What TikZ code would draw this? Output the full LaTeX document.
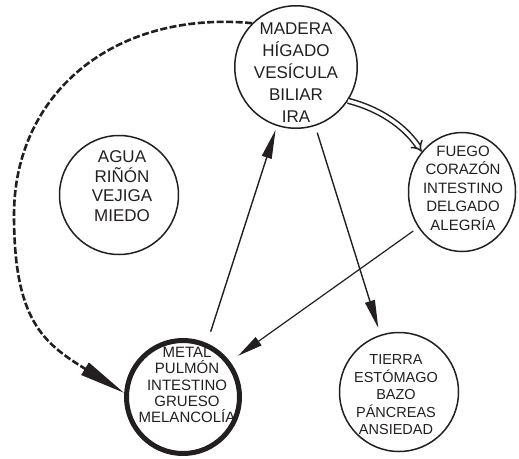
\documentclass[tikz,border=0pt]{standalone}
\usepackage{fontspec}
\setmainfont{Liberation Sans}
\usetikzlibrary{arrows.meta,shapes.geometric}
\definecolor{ink}{HTML}{231F20}
\begin{document}
\begin{tikzpicture}[x=1pt,y=-1pt,
  ring/.style={draw=ink, circle, line width=1.5pt, inner sep=0pt},
  txt/.style={align=center, text=ink, inner sep=0pt},
  link/.style={draw=ink, line width=1.4pt},
]
\useasboundingbox (0,0) rectangle (519,458);
% circles
\node[ring, minimum size=122.5pt] (madera) at (296,67) {};
\node[ring, minimum size=119pt] (agua) at (119,195) {};
\node[draw=ink, ellipse, line width=1.5pt, inner sep=0pt, minimum width=107pt, minimum height=119pt] (fuego) at (462,192) {};
\node[ring, line width=5pt, minimum size=113pt] (metal) at (183,397) {};
\node[ring, minimum size=119pt] (tierra) at (399,392) {};
% texts
\node[txt, font=\fontsize{17}{22}\selectfont] (maderaT) at (296,73) {MADERA\\HÍGADO\\VESÍCULA\\BILIAR\\IRA};
\node[txt, font=\fontsize{17}{19.5}\selectfont] (aguaT) at (122,186) {AGUA\\RIÑÓN\\VEJIGA\\MIEDO};
\node[txt, font=\fontsize{15}{18.5}\selectfont] (fuegoT) at (463,188) {FUEGO\\CORAZÓN\\INTESTINO\\DELGADO\\ALEGRÍA};
\node[txt, font=\fontsize{15}{16.3}\selectfont] (metalT) at (187,385) {METAL\\PULMÓN\\INTESTINO\\GRUESO\\MELANCOLÍA};
\node[txt, font=\fontsize{14.5}{17.5}\selectfont] (tierraT) at (396,395) {TIERRA\\ESTÓMAGO\\BAZO\\PÁNCREAS\\ANSIEDAD};
% connectors
\coordinate (bend) at (14,215);
\draw[link, shorten <=12pt, shorten >=4pt, -{Triangle[length=29pt,width=10pt]}] (metal.66) -- (madera.252);
\draw[link, shorten <=7pt, shorten >=7pt, -{Triangle[length=28pt,width=10pt]}] (madera.288) -- (tierra.108);
\draw[link, line width=1.2pt, shorten <=6pt, shorten >=10pt, -{Triangle[length=25pt,width=10pt]}] (fuego.219) -- (metal.37);
\draw[draw=ink, line width=2.6pt, dash pattern=on 7pt off 2.5pt, -{Triangle[length=46pt,width=14pt]}]
  (madera.135) .. controls +(-140,-13) and +(0,-120) .. (bend)
  .. controls +(0,105) and +(-81,-50) .. (metal.176);
\draw[draw=ink, double=white, double distance=3.4pt, line width=1.5pt, -{Implies}]
  (madera.327) .. controls +(38,10) and +(-14,-21) .. (fuego.135);
\end{tikzpicture}
\end{document}
